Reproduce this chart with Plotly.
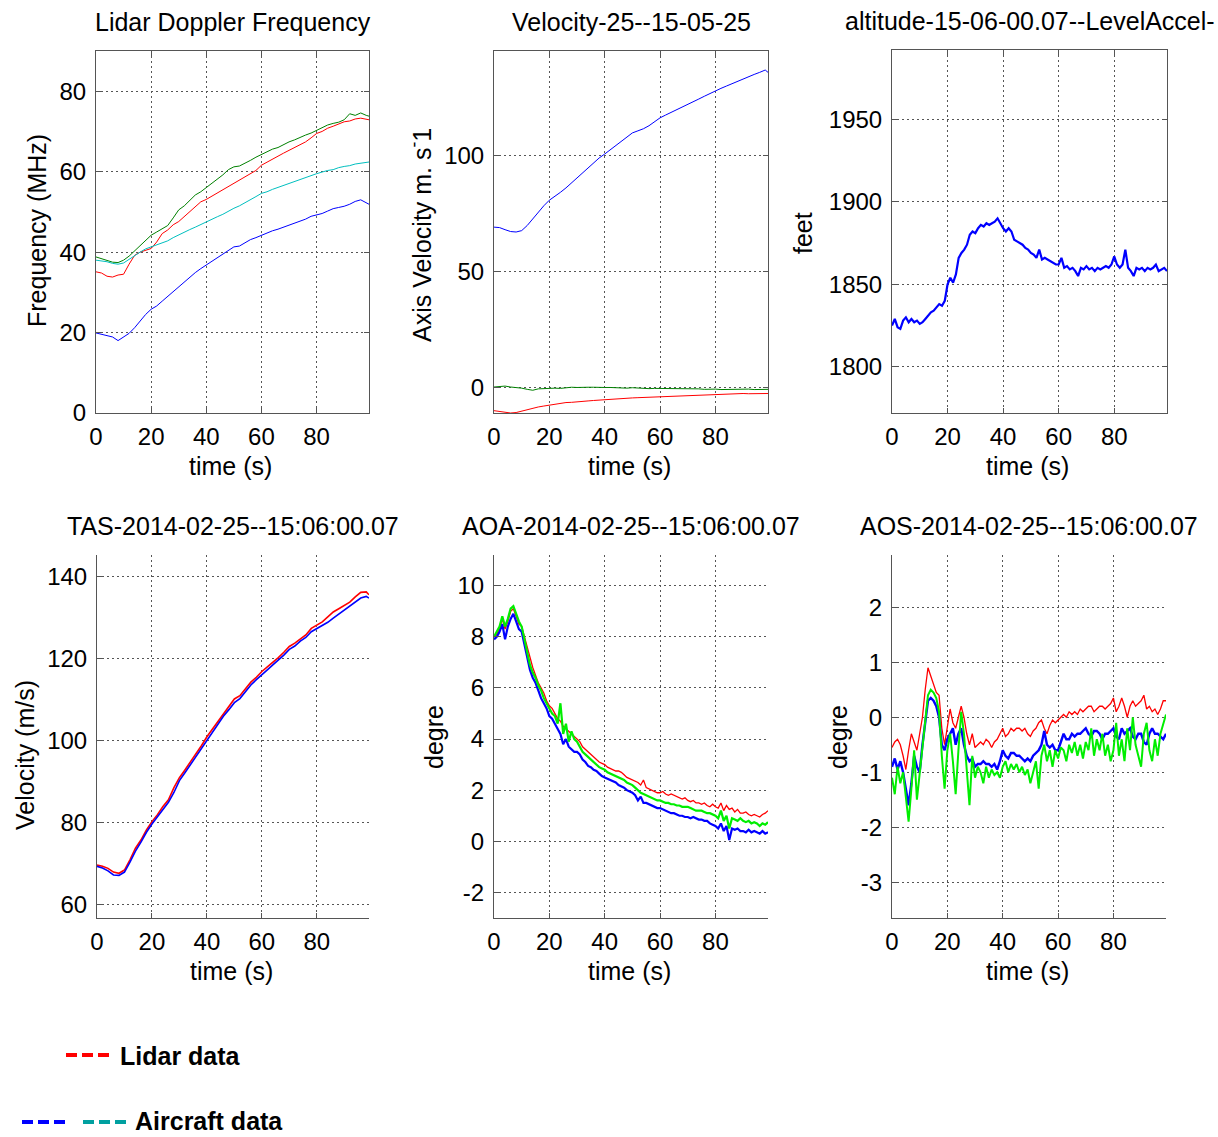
import plotly.graph_objects as go

# ---------------- data ----------------
t2 = list(range(0, 100, 2)) + [99]          # 2 s sampling (51 pts)
t1 = list(range(0, 100))                      # 1 s sampling (100 pts)

# Panel 1: Lidar Doppler Frequency (MHz)
freq_green = [38.8, 38.3, 38.0, 37.5, 37.4, 38.0, 39.0, 40.3, 41.5, 43.0, 44.2, 45.0, 45.8, 46.6, 48.5, 50.5, 51.5, 52.8, 54.2, 55.0,
              56.0, 57.0, 58.0, 59.2, 60.5, 61.2, 61.4, 62.0, 62.8, 63.6, 64.3, 64.9, 65.6, 66.0, 66.8, 67.4, 67.9, 68.6, 69.1, 69.6,
              70.3, 70.8, 71.6, 72.0, 72.3, 72.9, 74.4, 74.0, 74.6, 74.0, 73.8]
freq_red = [35.1, 34.8, 34.0, 33.8, 34.3, 34.5, 37.0, 39.2, 40.0, 40.5, 40.9, 42.5, 44.6, 45.5, 46.8, 47.6, 48.8, 50.2, 51.3, 52.5,
            53.1, 53.9, 54.8, 55.5, 56.3, 57.0, 57.8, 58.7, 59.5, 60.3, 61.6, 62.4, 63.2, 63.9, 64.6, 65.3, 66.0, 66.7, 67.4, 68.4,
            69.5, 70.0, 70.8, 71.3, 71.9, 72.4, 72.6, 73.1, 73.3, 73.0, 72.9]
freq_cyan = [38.0, 37.8, 37.6, 37.2, 37.0, 37.3, 38.2, 39.3, 40.0, 40.8, 41.3, 41.8, 42.4, 42.8, 43.6, 44.2, 44.8, 45.6, 46.2, 46.9,
             47.6, 48.2, 48.8, 49.4, 50.2, 50.9, 51.5, 52.2, 53.0, 53.8, 54.6, 55.0, 55.6, 56.1, 56.7, 57.2, 57.6, 58.1, 58.6, 59.0,
             59.5, 59.9, 60.3, 60.5, 61.0, 61.3, 61.5, 61.9, 62.1, 62.3, 62.4]
freq_blue = [19.9, 19.6, 19.3, 18.9, 18.0, 18.9, 19.8, 21.2, 23.0, 24.5, 25.8, 26.6, 27.8, 29.0, 30.2, 31.4, 32.5, 33.6, 34.9, 35.9,
             36.8, 37.6, 38.5, 39.3, 40.4, 41.3, 41.5, 42.3, 43.1, 43.6, 44.2, 44.7, 45.3, 45.7, 46.2, 46.7, 47.2, 47.8, 48.2, 48.9,
             49.2, 49.6, 50.2, 50.8, 51.1, 51.4, 51.9, 52.6, 53.0, 52.4, 51.9]

# Panel 2: axis velocity (m/s)
vel_blue = [69.1, 68.9, 68.0, 67.2, 67.0, 67.6, 69.8, 72.8, 75.8, 78.3, 80.7, 82.3, 84.1, 86.0, 88.2, 90.4, 92.6, 94.8, 97.0, 98.9,
            100.6, 102.5, 104.4, 106.3, 108.0, 109.7, 110.6, 111.5, 112.8, 114.5, 116.2, 117.4, 118.5, 119.7, 120.8, 122.0, 123.1,
            124.3, 125.5, 126.7, 127.8, 128.9, 129.9, 130.9, 132.0, 133.2, 134.0, 134.9, 135.8, 136.8, 135.8]
vel_green = [0.2, 0.3, 0.6, 0.2, 0.0, -0.3, -0.8, -1.2, -0.6, -0.4, -0.2, -0.3, -0.4, -0.1, 0.1, 0.0, 0.2, 0.1, 0.1, -0.1,
             0.0, 0.0, -0.2, -0.2, -0.3, -0.1, -0.3, -0.4, -0.5, -0.4, -0.4, -0.6, -0.6, -0.5, -0.7, -0.6, -0.7, -0.6, -0.8, -0.7,
             -0.7, -0.9, -0.8, -0.7, -0.9, -0.8, -0.7, -0.9, -0.8, -0.9, -0.8]
vel_red = [-10.0, -10.4, -10.8, -11.0, -10.8, -10.2, -9.4, -8.8, -8.4, -8.0, -7.6, -7.2, -6.8, -6.5, -6.4, -6.3, -6.1, -5.8, -5.6,
           -5.4, -5.2, -5.1, -5.0, -4.8, -4.7, -4.5, -4.4, -4.3, -4.1, -3.9, -3.8, -3.8, -3.6, -3.6, -3.5, -3.5, -3.4, -3.3, -3.2,
           -3.1, -3.0, -2.9, -2.8, -2.8, -2.7, -2.6, -2.7, -2.6, -2.5, -2.6, -2.6]

# Panel 3: altitude (feet)
altitude = [1825, 1829, 1824, 1823, 1828, 1830, 1827, 1829, 1827, 1828, 1826, 1827, 1829, 1831, 1833, 1834, 1836, 1838, 1837, 1840,
            1850, 1854, 1851, 1856, 1866, 1869, 1871, 1874, 1880, 1882, 1881, 1884, 1886, 1885, 1887, 1886, 1887, 1888, 1890, 1887,
            1884, 1882, 1884, 1882, 1877, 1876, 1875, 1874, 1872, 1871, 1869, 1868, 1866, 1871, 1865, 1866, 1865, 1864, 1863, 1862,
            1862, 1866, 1860, 1861, 1859, 1860, 1858, 1855, 1860, 1859, 1861, 1859, 1860, 1858, 1860, 1859, 1860, 1861, 1860, 1862,
            1867, 1862, 1860, 1862, 1871, 1860, 1858, 1855, 1860, 1859, 1860, 1858, 1860, 1859, 1860, 1862, 1858, 1859, 1860, 1858]

# Panel 4: TAS (m/s)
tas_red = [69.7, 69.4, 68.9, 68.0, 67.7, 68.5, 71.0, 73.8, 75.8, 78.3, 80.3, 82.0, 84.0, 85.6, 88.6, 91.0, 92.9, 94.8, 96.8, 98.8,
           101.0, 102.8, 104.6, 106.7, 108.2, 110.2, 111.0, 112.6, 114.3, 115.5, 116.9, 118.0, 119.1, 120.3, 121.6, 123.0, 123.8,
           124.9, 125.8, 127.4, 128.2, 129.0, 130.2, 131.4, 132.2, 133.1, 133.8, 135.1, 136.2, 136.3, 135.6]
tas_blue = [69.4, 69.0, 68.3, 67.3, 67.2, 68.0, 70.4, 73.1, 75.3, 77.7, 79.7, 81.5, 83.2, 85.0, 87.4, 90.3, 92.2, 94.2, 96.2, 98.2,
            100.3, 102.2, 104.0, 106.0, 107.6, 109.3, 110.3, 111.9, 113.6, 114.9, 116.2, 117.3, 118.5, 119.6, 120.9, 122.3, 123.1,
            124.3, 125.2, 126.6, 127.4, 128.0, 128.9, 129.9, 130.9, 132.0, 132.8, 133.9, 134.8, 135.2, 134.8]

# Panel 5: AOA (deg)
aoa_red = [8.0, 8.1, 8.3, 8.7, 8.3, 8.6, 9.0, 9.1, 8.8, 8.5, 8.4, 8.0, 7.5, 7.1, 6.8, 6.5, 6.2, 6.0, 5.8, 5.5,
           5.3, 5.2, 5.0, 4.8, 4.7, 4.5, 4.4, 4.3, 4.2, 4.1, 4.0, 3.9, 3.7, 3.6, 3.5, 3.4, 3.3, 3.2, 3.1, 3.05,
           3.0, 2.9, 2.85, 2.8, 2.75, 2.75, 2.7, 2.6, 2.5, 2.45, 2.4, 2.35, 2.3, 2.2, 2.4, 2.1, 2.05, 2.0, 1.95, 1.9,
           1.9, 1.95, 1.85, 1.8, 1.85, 1.8, 1.75, 1.7, 1.65, 1.7, 1.6, 1.55, 1.6, 1.5, 1.5, 1.45, 1.5, 1.4, 1.35, 1.45,
           1.35, 1.3, 1.5, 1.2, 1.4, 1.25, 1.3, 1.15, 1.25, 1.1, 1.1, 1.15, 1.05, 1.0, 1.05, 1.0, 0.95, 1.05, 1.1, 1.2]
aoa_green = [8.0, 8.2, 8.4, 8.8, 8.4, 8.7, 9.1, 9.2, 8.9, 8.6, 8.4, 7.9, 7.3, 6.9, 6.6, 6.4, 6.1, 5.9, 5.6, 5.4,
             5.2, 5.0, 4.9, 4.6, 5.4, 4.2, 4.6, 3.9, 4.3, 4.0, 3.9, 3.7, 3.5, 3.4, 3.3, 3.2, 3.1, 3.0, 2.9, 2.85,
             2.8, 2.7, 2.65, 2.6, 2.55, 2.5, 2.45, 2.4, 2.3, 2.25, 2.2, 2.1, 2.0, 1.9, 1.85, 1.8, 1.75, 1.7, 1.65, 1.6,
             1.6, 1.55, 1.5, 1.5, 1.45, 1.45, 1.4, 1.4, 1.35, 1.35, 1.35, 1.3, 1.25, 1.2, 1.2, 1.2, 1.15, 1.1, 1.1, 1.05,
             1.0, 0.9, 1.2, 0.8, 1.0, 0.5, 0.9, 0.85, 0.8, 0.9, 0.8, 0.75, 0.8, 0.7, 0.75, 0.7, 0.6, 0.7, 0.65, 0.75]
aoa_blue = [7.9, 8.0, 8.2, 8.5, 7.9, 8.4, 8.7, 8.9, 8.6, 8.3, 8.2, 7.7, 7.1, 6.7, 6.4, 6.2, 5.9, 5.6, 5.4, 5.2,
            4.9, 4.8, 4.6, 4.4, 4.2, 3.8, 4.0, 3.7, 3.6, 3.5, 3.5, 3.4, 3.2, 3.1, 2.95, 2.9, 2.8, 2.75, 2.65, 2.55,
            2.5, 2.45, 2.4, 2.35, 2.3, 2.2, 2.15, 2.1, 2.0, 1.95, 1.9, 1.8, 1.6, 1.75, 1.5, 1.5, 1.45, 1.4, 1.35, 1.3,
            1.3, 1.25, 1.2, 1.15, 1.1, 1.1, 1.05, 1.0, 1.0, 0.95, 0.95, 0.9, 0.95, 0.9, 0.85, 0.85, 0.8, 0.8, 0.7, 0.65,
            0.6, 0.5, 0.7, 0.4, 0.6, 0.05, 0.5, 0.45, 0.5, 0.4, 0.4, 0.35, 0.45, 0.35, 0.4, 0.35, 0.3, 0.4, 0.3, 0.35]

# Panel 6: AOS (deg)
aos_red = [-0.55, -0.45, -0.4, -0.5, -0.7, -0.95, -0.6, -0.3, -0.45, -0.6, -0.3, 0.0, 0.5, 0.9, 0.75, 0.6, 0.45, 0.4, -0.2, -0.5,
           -0.2, 0.15, -0.1, -0.2, 0.0, 0.2, 0.0, -0.3, -0.5, -0.3, -0.55, -0.5, -0.45, -0.5, -0.4, -0.45, -0.55, -0.45, -0.4, -0.3,
           -0.2, -0.35, -0.3, -0.2, -0.25, -0.2, -0.2, -0.25, -0.2, -0.3, -0.35, -0.25, -0.2, -0.1, -0.05, -0.2, -0.3, -0.15, -0.05, -0.1,
           -0.05, 0.0, 0.05, 0.0, 0.1, 0.05, 0.1, 0.05, 0.15, 0.1, 0.15, 0.2, 0.2, 0.1, 0.15, 0.2, 0.2, 0.15, 0.2, 0.25,
           0.35, 0.1, 0.2, 0.35, 0.2, 0.0, 0.2, 0.3, 0.2, 0.25, 0.3, 0.4, 0.15, 0.2, 0.1, 0.15, 0.05, 0.15, 0.3, 0.3]
aos_blue = [-0.9, -0.75, -0.95, -0.8, -1.0, -1.3, -1.6, -1.2, -0.7, -0.9, -1.0, -0.5, -0.1, 0.3, 0.35, 0.3, 0.2, 0.0, -0.5, -0.6,
            -0.4, -0.3, -0.2, -0.5, -0.3, -0.2, -0.5, -0.7, -0.8, -0.75, -0.9, -0.85, -0.85, -0.8, -0.85, -0.85, -0.9, -0.85, -0.95, -0.8,
            -0.6, -0.7, -0.75, -0.65, -0.65, -0.7, -0.7, -0.75, -0.8, -0.75, -0.8, -0.7, -0.65, -0.6, -0.5, -0.25, -0.5, -0.55, -0.5, -0.6,
            -0.6, -0.45, -0.3, -0.4, -0.4, -0.3, -0.35, -0.3, -0.3, -0.25, -0.2, -0.3, -0.35, -0.25, -0.25, -0.3, -0.4, -0.3, -0.3, -0.25,
            -0.2, -0.35, -0.4, -0.2, -0.3, -0.25, -0.2, -0.35, -0.4, -0.3, -0.3, -0.45, -0.5, -0.3, -0.2, -0.3, -0.3, -0.35, -0.4, -0.3]
aos_green = [-1.1, -1.4, -0.9, -1.2, -1.0, -1.5, -1.9, -1.3, -0.6, -1.5, -1.0, -0.5, -0.1, 0.4, 0.5, 0.45, 0.35, 0.1, -0.7, -1.3,
             -0.6, -0.3, -0.8, -1.4, -0.6, 0.1, -0.3, -0.9, -1.6, -0.7, -1.1, -0.9, -1.0, -1.2, -0.9, -1.1, -0.95, -1.05, -1.0, -1.1,
             -0.9, -0.8, -1.0, -0.85, -0.95, -0.85, -1.0, -0.9, -1.05, -0.95, -1.2, -1.0, -0.8, -1.3, -0.7, -0.5, -0.8, -0.6, -0.9, -0.6,
             -0.75, -0.55, -0.6, -0.8, -0.5, -0.65, -0.45, -0.7, -0.5, -0.75, -0.45, -0.6, -0.2, -0.7, -0.4, -0.6, -0.3, -0.7, -0.5, -0.8,
             -0.6, -0.1, -0.7, -0.4, -0.8, -0.2, -0.6, 0.0, -0.5, -0.7, -0.9, -0.3, -0.1, -0.6, -0.8, -0.4, -0.7, -0.3, -0.1, 0.05]

titles = ["Lidar Doppler Frequency", "Velocity-25--15-05-25", "altitude-15-06-00.07--LevelAccel-",
          "TAS-2014-02-25--15:06:00.07", "AOA-2014-02-25--15:06:00.07", "AOS-2014-02-25--15:06:00.07"]
ytitles = ["Frequency (MHz)", "Axis Velocity m. s<sup>-</sup>1", "feet", "Velocity (m/s)", "degre", "degre"]
xtitle = "time (s)"
xticks = [0, 20, 40, 60, 80]

RED, GREEN, DGREEN, CYAN, BLUE = "#ff0000", "#00ee00", "#008000", "#00bfbf", "#0000ff"

# ---------------- figure ----------------
W, H = 1218, 1137
FONT = "Liberation Sans, Arial, sans-serif"
fig = go.Figure()

def add(x, y, color, ax, width=1.0):
    fig.add_trace(go.Scatter(x=x, y=y, mode="lines", line=dict(color=color, width=width),
                             xaxis="x" + ax, yaxis="y" + ax, showlegend=False, hoverinfo="skip"))

add(t2, freq_green, DGREEN, "")
add(t2, freq_red, RED, "")
add(t2, freq_cyan, CYAN, "")
add(t2, freq_blue, BLUE, "")
add(t2, vel_blue, BLUE, "2")
add(t2, vel_green, DGREEN, "2")
add(t2, vel_red, RED, "2")
add(t1, altitude, BLUE, "3", 2.2)
add(t2, tas_red, RED, "4", 1.6)
add(t2, tas_blue, BLUE, "4", 1.6)
add(t1, aoa_red, RED, "5", 1.3)
add(t1, aoa_blue, BLUE, "5", 2.2)
add(t1, aoa_green, GREEN, "5", 2.2)
add(t1, aos_red, RED, "6", 1.3)
add(t1, aos_blue, BLUE, "6", 2.4)
add(t1, aos_green, GREEN, "6", 2.0)

# panel pixel boxes (left, right, top, bottom)
boxes = [(96, 369, 51, 413), (494, 768, 51, 413), (892, 1167, 50, 413),
         (97, 369, 555, 918), (494, 768, 555, 918), (892, 1166, 555, 918)]
yranges = [[0, 90], [-11, 145], [1772, 1992], [56.8, 145.3], [-3, 11.2], [-3.65, 2.95]]
ytickvals = [[0, 20, 40, 60, 80], [0, 50, 100], [1800, 1850, 1900, 1950],
             [60, 80, 100, 120, 140], [-2, 0, 2, 4, 6, 8, 10], [-3, -2, -1, 0, 1, 2]]

layout = dict(template="none", width=W, height=H, margin=dict(l=0, r=0, t=0, b=0, pad=0), autosize=False,
              paper_bgcolor="white", plot_bgcolor="white", showlegend=False,
              font=dict(family=FONT, size=24, color="black"))
annotations = []
for i, (l, r, tp, bt) in enumerate(boxes):
    sfx = "" if i == 0 else str(i + 1)
    box = i < 3
    common = dict(showline=True, linecolor="#555", linewidth=1, mirror="ticks" if box else False,
                  showgrid=True, gridcolor="#555", griddash="2px,3px", gridwidth=1,
                  ticks="inside", ticklen=5, tickcolor="#555", zeroline=False, automargin=False,
                  tickfont=dict(family=FONT, size=24, color="black"))
    layout["xaxis" + sfx] = dict(domain=[l / W, r / W], anchor="y" + sfx, range=[0, 99],
                                 tickvals=xticks, ticktext=[str(v) for v in xticks],
                                 ticklabelstandoff=2, **common)
    layout["yaxis" + sfx] = dict(domain=[1 - bt / H, 1 - tp / H], anchor="x" + sfx, range=yranges[i],
                                 tickvals=ytickvals[i], ticktext=[str(v) for v in ytickvals[i]],
                                 ticklabelstandoff=4, **common)
    cx = (l + r) / 2
    annotations.append(dict(text=titles[i], x=cx / W, y=1 - (tp - 29) / H, xref="paper", yref="paper",
                            showarrow=False, xanchor="center", yanchor="middle",
                            font=dict(family=FONT, size=25, color="black")))
    annotations.append(dict(text=xtitle, x=(cx - 2) / W, y=1 - (bt + 53) / H, xref="paper", yref="paper",
                            showarrow=False, xanchor="center", yanchor="middle",
                            font=dict(family=FONT, size=25, color="black")))

ytitle_pos = [(37, 231), (420, 235), (803, 233), (25, 755), (434, 737), (838, 737)]
for i, (px, py) in enumerate(ytitle_pos):
    annotations.append(dict(text=ytitles[i], x=px / W, y=1 - py / H, xref="paper", yref="paper",
                            showarrow=False, textangle=-90, xanchor="center", yanchor="middle",
                            font=dict(family=FONT, size=25, color="black")))

annotations.append(dict(text="<b>Lidar data</b>", x=118 / W, y=1 - 1056 / H, xref="paper", yref="paper",
                        showarrow=False, xanchor="left", yanchor="middle",
                        font=dict(family=FONT, size=25, color="black")))
annotations.append(dict(text="<b>Aircraft data</b>", x=133 / W, y=1 - 1121 / H, xref="paper", yref="paper",
                        showarrow=False, xanchor="left", yanchor="middle",
                        font=dict(family=FONT, size=25, color="black")))
layout["annotations"] = annotations

shapes = []
for (x0, x1, yy, col) in [(66, 110, 1055, RED), (22, 66, 1122, BLUE), (83, 127, 1122, "#00a0a0")]:
    shapes.append(dict(type="line", xref="paper", yref="paper", x0=x0 / W, x1=x1 / W,
                       y0=1 - yy / H, y1=1 - yy / H, line=dict(color=col, width=4, dash="11px,5px")))
layout["shapes"] = shapes

fig.update_layout(**layout)
fig.write_html("out.html")
